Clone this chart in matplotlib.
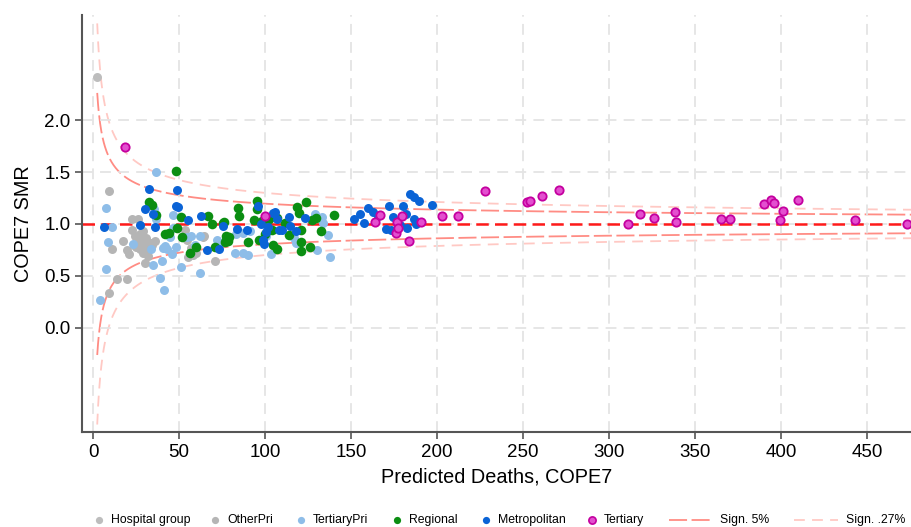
import numpy as np
import matplotlib
matplotlib.use('Agg')
import matplotlib.pyplot as plt
from matplotlib.lines import Line2D

plt.rcParams['font.family'] = ['Liberation Sans', 'DejaVu Sans']

# predicted deaths (x) and SMR (y) per hospital group
hosp_x = [2.3]
hosp_y = [2.42]

otherpri_x = [9.3, 9.3, 11.2, 13.8, 17.6, 19.6, 20.0, 21.0, 22.5, 22.5, 24.4, 26.3, 26.3, 28.3, 29.2,
              30.0, 30.2, 31.0, 32.2, 32.2, 34.5, 36.0, 27.0, 25.0, 23.5, 27.5, 29.0, 33.5,
              53.5, 54.5, 55.4, 58.3, 60.0, 63.8, 64.5, 70.9, 57.0]
otherpri_y = [1.32, 0.33, 0.76, 0.47, 0.84, 0.75, 0.47, 0.71, 1.05, 0.94, 0.88, 1.05, 0.82, 0.85, 0.72,
              0.80, 0.62, 0.86, 0.75, 0.69, 0.80, 0.84, 0.90, 0.78, 0.80, 0.76, 0.93, 0.82,
              0.94, 0.85, 0.68, 0.70, 0.72, 0.87, 0.88, 0.64, 0.77]

tertpri_x = [4.3, 7.4, 7.6, 8.9, 11.2, 23.0, 33.7, 35.0, 35.6, 36.4, 36.6, 39.0, 40.0, 40.7, 42.0,
             43.0, 41.5, 44.8, 45.7, 46.5, 46.7, 48.0, 51.2, 54.5, 57.0, 59.3, 62.2, 62.2, 71.9,
             72.8, 82.6, 83.0, 87.0, 87.4, 90.3, 91.3, 100.6, 101.0, 103.5, 117.0, 118.0, 128.7,
             130.4, 133.9, 133.0, 136.8, 137.8]
tertpri_y = [0.27, 1.15, 0.57, 0.83, 0.97, 0.81, 0.76, 0.60, 1.14, 1.50, 1.05, 0.48, 0.64, 0.77, 0.79,
             0.76, 0.36, 0.87, 0.71, 0.96, 1.09, 0.78, 0.58, 0.87, 0.88, 0.80, 0.53, 0.88, 0.85,
             0.81, 0.72, 0.90, 0.91, 0.72, 0.70, 0.93, 0.88, 0.96, 0.71, 0.86, 0.82, 1.10,
             0.75, 1.01, 1.07, 0.89, 0.68]

regional_x = [32.6, 34.0, 36.6, 42.0, 44.0, 48.4, 49.0, 51.0, 51.5, 56.4, 60.0, 66.9, 69.4, 71.0,
              76.0, 77.0, 77.5, 78.5, 79.0, 76.5, 75.8, 84.0, 84.7, 90.3, 93.6, 95.1, 95.5, 96.3,
              100.0, 103.9, 104.8, 106.8, 106.8, 111.6, 113.6, 118.4, 119.8, 121.0, 121.0, 121.0,
              123.8, 126.0, 127.1, 129.5, 132.6, 140.3, 98.0, 102.0]
regional_y = [1.21, 1.18, 1.09, 0.90, 0.91, 1.51, 0.96, 1.07, 0.87, 0.72, 0.78, 1.08, 1.00, 0.78,
              1.02, 0.88, 0.85, 0.84, 0.87, 0.83, 1.01, 1.15, 1.08, 0.83, 1.04, 1.14, 1.22, 0.85,
              0.90, 0.94, 0.80, 1.06, 0.76, 1.01, 0.89, 1.16, 1.11, 0.94, 0.83, 0.74,
              1.21, 0.78, 1.04, 1.06, 0.93, 1.09, 1.03, 1.05]

metro_x = [6.6, 27.5, 30.4, 32.7, 34.7, 35.9, 48.0, 49.0, 49.4, 55.4, 62.8, 66.0, 73.4, 75.8, 83.5,
           89.7, 96.0, 97.7, 98.6, 99.4, 100.5, 101.5, 104.8, 107.0, 108.0, 105.8, 109.7, 113.6,
           114.5, 117.8, 123.0, 151.4, 155.0, 157.7, 159.7, 162.6, 165.5, 170.0, 172.0, 173.0,
           174.6, 178.5, 180.0, 182.0, 182.7, 184.0, 186.6, 186.8, 187.8, 189.7, 197.0]
metro_y = [0.97, 0.99, 1.14, 1.34, 1.10, 0.97, 1.17, 1.33, 1.16, 1.04, 1.08, 0.75, 0.76, 0.98, 0.95,
           0.94, 1.17, 1.00, 0.85, 0.81, 0.92, 0.97, 1.11, 1.05, 0.94, 1.12, 0.94, 1.07,
           0.98, 0.93, 1.06, 1.05, 1.10, 1.01, 1.15, 1.12, 1.08, 0.95, 1.17, 0.94,
           1.07, 0.99, 1.17, 1.10, 0.96, 1.29, 1.05, 1.26, 1.00, 1.22, 1.18]

tert_x = [18.6, 100.0, 164.0, 167.0, 176.0, 176.5, 177.5, 179.5, 183.5, 190.7, 203.0, 212.0, 228.0,
          252.0, 254.0, 261.0, 271.0, 311.0, 318.0, 326.0, 338.0, 339.0, 365.0, 370.0, 390.0,
          394.0, 396.0, 399.0, 401.0, 410.0, 443.0, 473.0]
tert_y = [1.74, 1.08, 1.02, 1.09, 0.91, 1.02, 0.96, 1.08, 0.84, 1.02, 1.08, 1.08, 1.32,
          1.21, 1.22, 1.27, 1.33, 1.00, 1.10, 1.06, 1.12, 1.02, 1.05, 1.05, 1.19,
          1.23, 1.20, 1.04, 1.13, 1.23, 1.04, 1.00]

W, H = 912, 527
fig = plt.figure(figsize=(W / 100, H / 100), dpi=100)
ax = fig.add_axes([0.09, 0.18, 0.91, 0.792])

ax.grid(True, color='#e4e4e4', linestyle=(0, (6, 4)), linewidth=1.3, zorder=0)

# funnel control limits
E = np.linspace(2.4, 480, 2000)
c5 = '#ff8c84'
c27 = '#ffc9c4'
ls5 = (0, (10, 2.5))
ls27 = (0, (6, 4))
ax.plot(E, 1 + 1.96 / np.sqrt(E), color=c5, lw=1.3, ls=ls5, zorder=1)
ax.plot(E, 1 - 1.96 / np.sqrt(E), color=c5, lw=1.3, ls=ls5, zorder=1)
ax.plot(E, 1 + 3 / np.sqrt(E), color=c27, lw=1.3, ls=ls27, zorder=1)
ax.plot(E, 1 - 3 / np.sqrt(E), color=c27, lw=1.3, ls=ls27, zorder=1)
ax.axhline(1.0, color='#ff1a1a', lw=1.8, ls=(0, (5, 2.5)), zorder=2)

s = 42
ax.scatter(hosp_x, hosp_y, s=s, color='#bdbdbd', lw=0, zorder=3)
ax.scatter(otherpri_x, otherpri_y, s=s, color='#b5b5b5', lw=0, zorder=3)
ax.scatter(tertpri_x, tertpri_y, s=s, color='#8ebde8', lw=0, zorder=3)
ax.scatter(regional_x, regional_y, s=s + 6, color='#0b8e12', lw=0, zorder=4)
ax.scatter(metro_x, metro_y, s=s, color='#0a63d6', lw=0, zorder=4)
ax.scatter(tert_x, tert_y, s=s - 6, color='#e34fcf', edgecolor='#c4009f', lw=1.3, zorder=5)

ax.set_xlim(-6.4, 476)
ax.set_ylim(-1.01, 3.02)
ax.set_xticks(np.arange(0, 451, 50))
ax.set_yticks([0.0, 0.5, 1.0, 1.5, 2.0])
ax.set_yticklabels(['0.0', '0.5', '1.0', '1.5', '2.0'])

for sp in ['top', 'right']:
    ax.spines[sp].set_visible(False)
for sp in ['left', 'bottom']:
    ax.spines[sp].set_color('#555555')
    ax.spines[sp].set_linewidth(1.5)
ax.tick_params(axis='both', colors='#555555', labelcolor='black', labelsize=13.5,
               length=5, width=1.2)

ax.set_xlabel('Predicted Deaths, COPE7', fontsize=14.3, labelpad=5)
ax.set_ylabel('COPE7 SMR', fontsize=14.3, labelpad=8)

# legend row along the bottom, placed by pixel
leg_y = 1 - 520 / H
markers = [
    (99, '#bdbdbd', None, 'Hospital group'),
    (215, '#b5b5b5', None, 'OtherPri'),
    (301, '#8ebde8', None, 'TertiaryPri'),
    (397, '#0b8e12', None, 'Regional'),
    (486, '#0a63d6', None, 'Metropolitan'),
    (592, '#e34fcf', '#c4009f', 'Tertiary'),
]
for px, col, ec, lab in markers:
    fig.add_artist(Line2D([px / W], [leg_y], ls='', marker='o', ms=5.2, color=col,
                          mec=ec if ec else col, mew=1.2 if ec else 0, transform=fig.transFigure))
    fig.text((px + 12) / W, leg_y, lab, fontsize=8.8, va='center', ha='left')
for x0, x1, col, ls, lab in [(669, 712, c5, ls5, 'Sign. 5%'), (794, 838, c27, ls27, 'Sign. .27%')]:
    fig.add_artist(Line2D([x0 / W, x1 / W], [leg_y, leg_y], color=col, lw=1.3, ls=ls,
                          transform=fig.transFigure))
    fig.text((x1 + 8) / W, leg_y, lab, fontsize=8.8, va='center', ha='left')

fig.savefig('out.png', dpi=100)
